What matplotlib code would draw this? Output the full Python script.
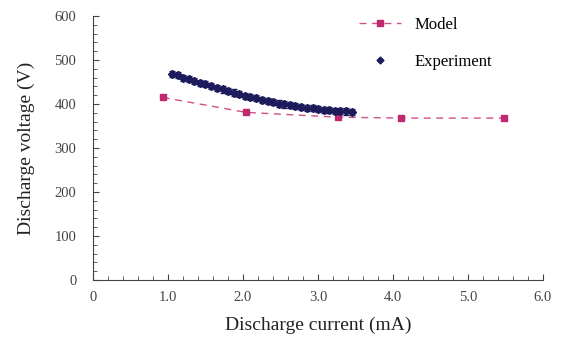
import matplotlib
matplotlib.use("Agg")
import matplotlib.pyplot as plt
from matplotlib.ticker import MultipleLocator, FixedFormatter, FixedLocator

# Model curve
model_current = [0.93, 2.04, 3.27, 4.11, 5.48]
model_voltage = [415, 381, 370, 368, 368]

# Measured points
exp_current = [1.05, 1.13, 1.20, 1.28, 1.35, 1.43, 1.50, 1.58, 1.65, 1.73, 1.80,
               1.88, 1.95, 2.03, 2.10, 2.18, 2.25, 2.33, 2.40, 2.48, 2.55, 2.63,
               2.70, 2.78, 2.85, 2.93, 3.00, 3.08, 3.15, 3.23, 3.30, 3.38, 3.45]
exp_voltage = [468, 465, 460, 456, 452, 448, 445, 441, 437, 433, 430,
               426, 423, 419, 416, 413, 410, 407, 404, 401, 399, 397,
               395, 393, 391, 390, 388, 387, 386, 385, 384, 383, 382]
exp_err = [7] * len(exp_voltage)

x_ticks = [0, 1, 2, 3, 4, 5, 6]
x_labels = ["0", "1.0", "2.0", "3.0", "4.0", "5.0", "6.0"]

plt.rcParams["font.family"] = ["Liberation Serif", "DejaVu Serif"]

fig = plt.figure(figsize=(5.62, 3.41), dpi=100)
ax = fig.add_axes([0.1655, 0.179, 0.8005, 0.774])

ax.plot(model_current, model_voltage, linestyle=(0, (5, 4)), color="#d0508a",
        linewidth=1.0, marker="s", markersize=5, markerfacecolor="#c02870",
        markeredgecolor="#c02870", label="Model", zorder=2)
ax.errorbar(exp_current, exp_voltage, yerr=exp_err, fmt="D", color="#1c1c5c",
            markersize=4, ecolor="#1c1c5c", elinewidth=0.8, capsize=2.5,
            zorder=3)
# legend entry for the measurements: bare marker, no error bar
ax.plot([], [], "D", color="#1c1c5c", markersize=3.5, label="Experiment")

ax.set_xlim(0, 6)
ax.set_ylim(0, 600)
ax.xaxis.set_major_locator(FixedLocator(x_ticks))
ax.xaxis.set_major_formatter(FixedFormatter(x_labels))
ax.xaxis.set_minor_locator(MultipleLocator(0.2))
ax.yaxis.set_major_locator(MultipleLocator(100))
ax.yaxis.set_minor_locator(MultipleLocator(20))
ax.tick_params(which="both", direction="in", colors="#444444", labelsize=10.5)
ax.tick_params(which="major", length=4)
ax.tick_params(which="minor", length=3)
ax.tick_params(axis="x", pad=8)
ax.tick_params(axis="y", pad=12)

for side in ["top", "right"]:
    ax.spines[side].set_visible(False)
for side in ["left", "bottom"]:
    ax.spines[side].set_color("#444444")

ax.set_xlabel("Discharge current (mA)", fontsize=14, color="#222222", labelpad=9)
ax.set_ylabel("Discharge voltage (V)", fontsize=14, color="#222222", labelpad=14)

ax.legend(loc="upper right", bbox_to_anchor=(0.92, 1.055), frameon=False,
          fontsize=12, handlelength=2.5, labelspacing=1.3)

fig.savefig("out.png", dpi=100, facecolor="white")
